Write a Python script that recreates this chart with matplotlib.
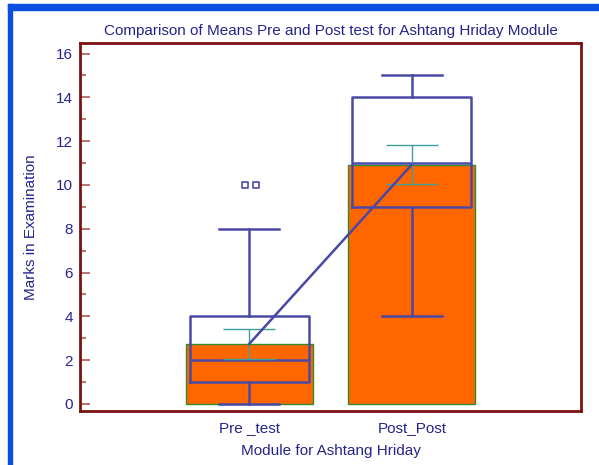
import numpy as np
import matplotlib
matplotlib.use("Agg")
import matplotlib.pyplot as plt
from matplotlib.patches import Rectangle

# Chart data
categories = ["Pre _test", "Post_Post"]
means = [2.74, 10.93]
mean_err = [0.69, 0.90]
whis_lo = [0, 4]
q1 = [1, 9]
medians = [2, 11]
q3 = [4, 14]
whis_hi = [8, 15]
fliers = [[10, 10], []]

plt.rcParams['font.family'] = ['Liberation Sans', 'DejaVu Sans']

text_col = "#24248c"
box_col = "#4a4aa6"
frame_col = "#7a1212"
fs = 11

fig = plt.figure(figsize=(5.99, 4.65), dpi=100)
ax = fig.add_axes([80 / 599, (465 - 411) / 465, (581 - 80) / 599, (411 - 43) / 465])

pos = np.arange(1, len(categories) + 1)

# Mean bars
ax.bar(pos, means, width=0.78, color="#ff6600", edgecolor="#2e8b2e", linewidth=1, zorder=1)

# Box plots
stats = []
for i in range(len(categories)):
    stats.append({"whislo": whis_lo[i], "q1": q1[i], "med": medians[i],
                  "q3": q3[i], "whishi": whis_hi[i], "fliers": []})
line_kw = dict(color=box_col, linewidth=1.8)
ax.bxp(stats, positions=pos, widths=0.73, capwidths=0.37, showfliers=False,
       boxprops=line_kw, whiskerprops=line_kw, capprops=line_kw, medianprops=line_kw,
       manage_ticks=False, zorder=2)

# Outliers as small squares side by side
for i, fl in enumerate(fliers):
    if fl:
        offs = np.linspace(-0.034, 0.034, len(fl)) + 0.01
        ax.scatter(pos[i] + offs, fl, marker="s", s=14, facecolor="white",
                   edgecolor=box_col, linewidth=1.2, zorder=4)

# Mean error bars
ax.errorbar(pos, means, yerr=mean_err, fmt="none", ecolor="#3f9f9f", elinewidth=1,
            capsize=19, capthick=1, zorder=3)

# Line connecting means
ax.plot(pos, means, color="#4848a8", linewidth=1.8, zorder=5)

ax.set_xlim(-0.04, 3.04)
ax.set_ylim(-0.32, 16.48)
ax.set_xticks(pos)
ax.set_xticklabels(categories)
ax.set_yticks(np.arange(0, 17, 2))
ax.set_yticks(np.arange(1, 16, 2), minor=True)

ax.tick_params(axis="x", length=0, pad=7, labelcolor=text_col, labelsize=fs)
ax.tick_params(axis="y", which="major", direction="in", length=7, width=1.2,
               color="#b05a5a", labelcolor=text_col, labelsize=fs, pad=5)
ax.tick_params(axis="y", which="minor", direction="in", length=4, width=1.2, color="#b05a5a")

for sp in ax.spines.values():
    sp.set_color(frame_col)
    sp.set_linewidth(2)

ax.set_title("Comparison of Means Pre and Post test for Ashtang Hriday Module",
             color=text_col, fontsize=fs, pad=6)
ax.set_xlabel("Module for Ashtang Hriday", color=text_col, fontsize=fs, labelpad=7)
ax.set_ylabel("Marks in Examination", color=text_col, fontsize=fs, labelpad=13)

# Window chrome from the screenshot
fig.add_artist(Rectangle((8 / 599, 1 - 10 / 465), 1, 6 / 465, transform=fig.transFigure,
                         color="#0a50e0", zorder=10))
fig.add_artist(Rectangle((8 / 599, 0), 4 / 599, 1 - 4 / 465, transform=fig.transFigure,
                         color="#0a50e0", zorder=10))

fig.savefig("out.png", dpi=100)
